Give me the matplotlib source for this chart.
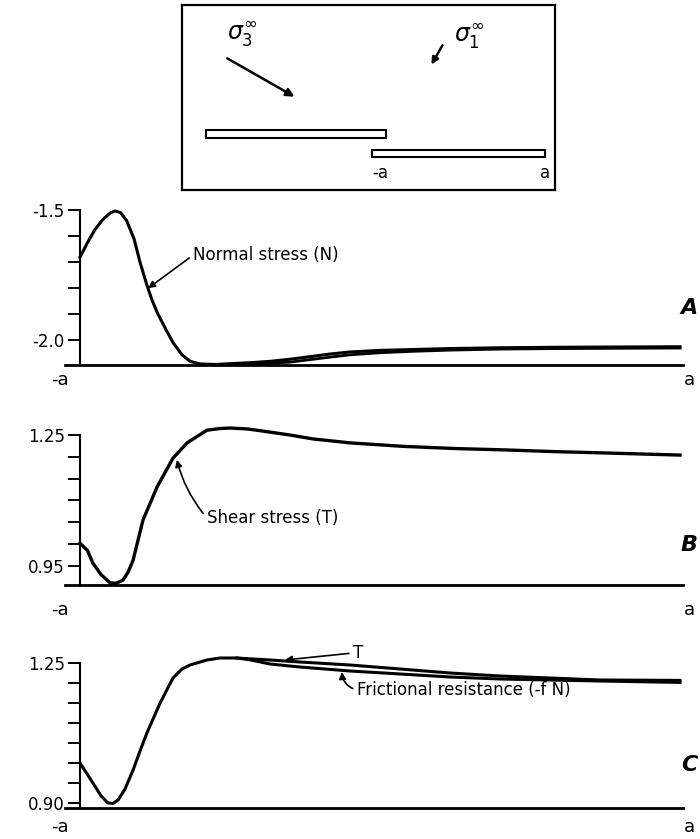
import numpy as np
import matplotlib.pyplot as plt
from matplotlib.patches import Rectangle

plt.rcParams['font.family'] = ['DejaVu Sans']

# ---- data (x in units of a, from -a to a) ----
s_normal = [-1.0, -0.975, -0.95, -0.925, -0.90, -0.883, -0.865, -0.845, -0.82, -0.80,
            -0.777, -0.76, -0.743, -0.715, -0.69, -0.66, -0.633, -0.60, -0.55, -0.50,
            -0.43, -0.367, -0.30, -0.233, -0.167, -0.10, 0.0, 0.10, 0.233, 0.40,
            0.60, 0.80, 1.0]
normal = [-1.681, -1.625, -1.575, -1.538, -1.512, -1.504, -1.510, -1.540, -1.610, -1.700,
          -1.788, -1.845, -1.892, -1.955, -2.008, -2.055, -2.080, -2.090, -2.092, -2.089,
          -2.085, -2.080, -2.072, -2.062, -2.052, -2.044, -2.038, -2.035, -2.031, -2.028,
          -2.026, -2.025, -2.024]
s_normal_b = [-0.55, -0.43, -0.30, -0.167, -0.10, 0.0, 0.10, 0.233, 0.40, 0.60, 0.80, 1.0]
normal_b = [-2.094, -2.091, -2.083, -2.064, -2.055, -2.047, -2.042, -2.037, -2.033,
            -2.031, -2.030, -2.029]

s_shear = [-1.0, -0.975, -0.957, -0.93, -0.90, -0.88, -0.857, -0.84, -0.823, -0.79,
           -0.743, -0.69, -0.643, -0.577, -0.533, -0.50, -0.443, -0.40, -0.35, -0.30,
           -0.223, -0.10, 0.077, 0.25, 0.41, 0.58, 0.743, 1.0]
shear = [1.002, 0.985, 0.956, 0.930, 0.911, 0.910, 0.917, 0.935, 0.963, 1.055,
         1.131, 1.197, 1.232, 1.261, 1.265, 1.266, 1.264, 1.260, 1.255, 1.250,
         1.241, 1.232, 1.224, 1.219, 1.216, 1.212, 1.209, 1.204]

s_c = [-1.0, -0.957, -0.93, -0.907, -0.89, -0.873, -0.85, -0.823, -0.80, -0.777,
       -0.733, -0.69, -0.66, -0.633, -0.577, -0.533, -0.477, -0.367, -0.267, -0.10,
       0.067, 0.233, 0.40, 0.567, 0.733, 1.0]
shear_c = [1.0, 0.95, 0.918, 0.90, 0.899, 0.9075, 0.935, 0.9825, 1.03, 1.075,
           1.15, 1.2125, 1.235, 1.245, 1.2575, 1.2625, 1.2625, 1.2575, 1.2525, 1.245,
           1.235, 1.225, 1.2175, 1.2125, 1.2075, 1.2065]
s_fric = [-0.477, -0.433, -0.367, -0.267, -0.10, 0.067, 0.233, 0.40, 0.567, 0.733, 1.0]
friction = [1.2625, 1.258, 1.2475, 1.24, 1.23, 1.2225, 1.215, 1.21, 1.2075, 1.205, 1.2015]

ticks_a = [-1.5, -1.6, -1.7, -1.8, -1.9, -2.0]
labels_a = ['-1.5', '', '', '', '', '-2.0']
ticks_b = [1.25, 1.20, 1.15, 1.10, 1.05, 1.00, 0.95]
labels_b = ['1.25', '', '', '', '', '', '0.95']
ticks_c = [1.25, 1.20, 1.15, 1.10, 1.05, 1.00, 0.95, 0.90]
labels_c = ['1.25', '', '', '', '', '', '', '0.90']

W, H = 700, 839


def px_box(left, top, right, bottom):
    return [left / W, 1 - bottom / H, (right - left) / W, (bottom - top) / H]


fig = plt.figure(figsize=(7, 8.39), dpi=100)

# ---- inset sketch of the two faults ----
ins = fig.add_axes(px_box(182, 5, 555, 190))
ins.set_xlim(0, 1)
ins.set_ylim(0, 1)
ins.set_xticks([])
ins.set_yticks([])
for sp in ins.spines.values():
    sp.set_linewidth(1.6)
ins.add_patch(Rectangle((0.064, 0.281), 0.483, 0.043, fill=False, lw=1.5))
ins.add_patch(Rectangle((0.509, 0.178), 0.464, 0.038, fill=False, lw=1.5))
ins.text(0.531, 0.092, '-a', ha='center', va='center', fontsize=12)
ins.text(0.973, 0.092, 'a', ha='center', va='center', fontsize=12)
ins.text(0.16, 0.84, r'$\sigma_3^\infty$', ha='center', va='center', fontsize=17)
ins.text(0.77, 0.83, r'$\sigma_1^\infty$', ha='center', va='center', fontsize=17)
ins.annotate('', xy=(0.308, 0.497), xytext=(0.115, 0.719),
             arrowprops=dict(arrowstyle='-|>', lw=1.8, color='k', mutation_scale=12))
ins.annotate('', xy=(0.665, 0.665), xytext=(0.702, 0.795),
             arrowprops=dict(arrowstyle='-|>', lw=1.8, color='k', mutation_scale=10))


def setup(ax, ylo, yhi, ticks, labels, lab_y):
    ax.set_xlim(-1.05, 1.01)
    ax.set_ylim(ylo, yhi)
    ax.spines['top'].set_visible(False)
    ax.spines['right'].set_visible(False)
    ax.spines['left'].set_position(('data', -1.0))
    ax.spines['left'].set_bounds(ylo, ticks[0])
    ax.spines['left'].set_linewidth(1.5)
    ax.spines['bottom'].set_linewidth(2.0)
    ax.set_xticks([])
    ax.set_yticks(ticks)
    ax.set_yticklabels(labels, fontsize=12)
    ax.tick_params(axis='y', length=9, width=1.4, pad=2)
    ax.patch.set_visible(False)
    tr = ax.get_xaxis_transform()
    ax.text(-1.067, lab_y, '-a', transform=tr, ha='center', va='center', fontsize=13)
    ax.text(1.033, lab_y, 'a', transform=tr, ha='center', va='center', fontsize=13)


arrow_kw = dict(arrowstyle='-|>', lw=1.2, color='k', mutation_scale=10,
                relpos=(0, 0.5), shrinkA=1, shrinkB=0)

# ---- A: normal stress ----
axA = fig.add_axes(px_box(65, 205, 683, 365))
setup(axA, -2.094, -1.481, ticks_a, labels_a, -0.094)
axA.plot(s_normal, normal, color='k', lw=2.2, clip_on=False)
axA.plot(s_normal_b, normal_b, color='k', lw=2.0, clip_on=False)
axA.annotate('Normal stress (N)', xy=(-0.773, -1.80), xytext=(-0.623, -1.673),
             ha='left', va='center', fontsize=12, arrowprops=arrow_kw)

# ---- B: shear stress ----
axB = fig.add_axes(px_box(65, 425, 683, 585))
setup(axB, 0.906, 1.273, ticks_b, labels_b, -0.156)
axB.plot(s_shear, shear, color='k', lw=2.4, clip_on=False)
axB.annotate('Shear stress (T)', xy=(-0.677, 1.193), xytext=(-0.577, 1.06),
             ha='left', va='center', fontsize=12,
             arrowprops=dict(arrow_kw, connectionstyle='arc3,rad=-0.12'))

# ---- C: shear vs frictional resistance ----
axC = fig.add_axes(px_box(65, 653, 683, 808))
setup(axC, 0.8875, 1.275, ticks_c, labels_c, -0.125)
axC.plot(s_c, shear_c, color='k', lw=2.2, clip_on=False)
axC.plot(s_fric, friction, color='k', lw=2.2, clip_on=False)
axC.annotate('T', xy=(-0.317, 1.2575), xytext=(-0.09, 1.275),
             ha='left', va='center', fontsize=12, arrowprops=arrow_kw)
axC.annotate('Frictional resistance (-f N)', xy=(-0.127, 1.2275), xytext=(-0.077, 1.1825),
             ha='left', va='center', fontsize=12,
             arrowprops=dict(arrow_kw, connectionstyle='arc3,rad=-0.35'))

# panel letters
for lab, ypx in [('A', 308), ('B', 545), ('C', 765)]:
    fig.text(698 / W, 1 - ypx / H, lab, ha='right', va='center', fontsize=16,
             fontweight='bold', fontstyle='italic')

fig.savefig('out.png', dpi=100)
